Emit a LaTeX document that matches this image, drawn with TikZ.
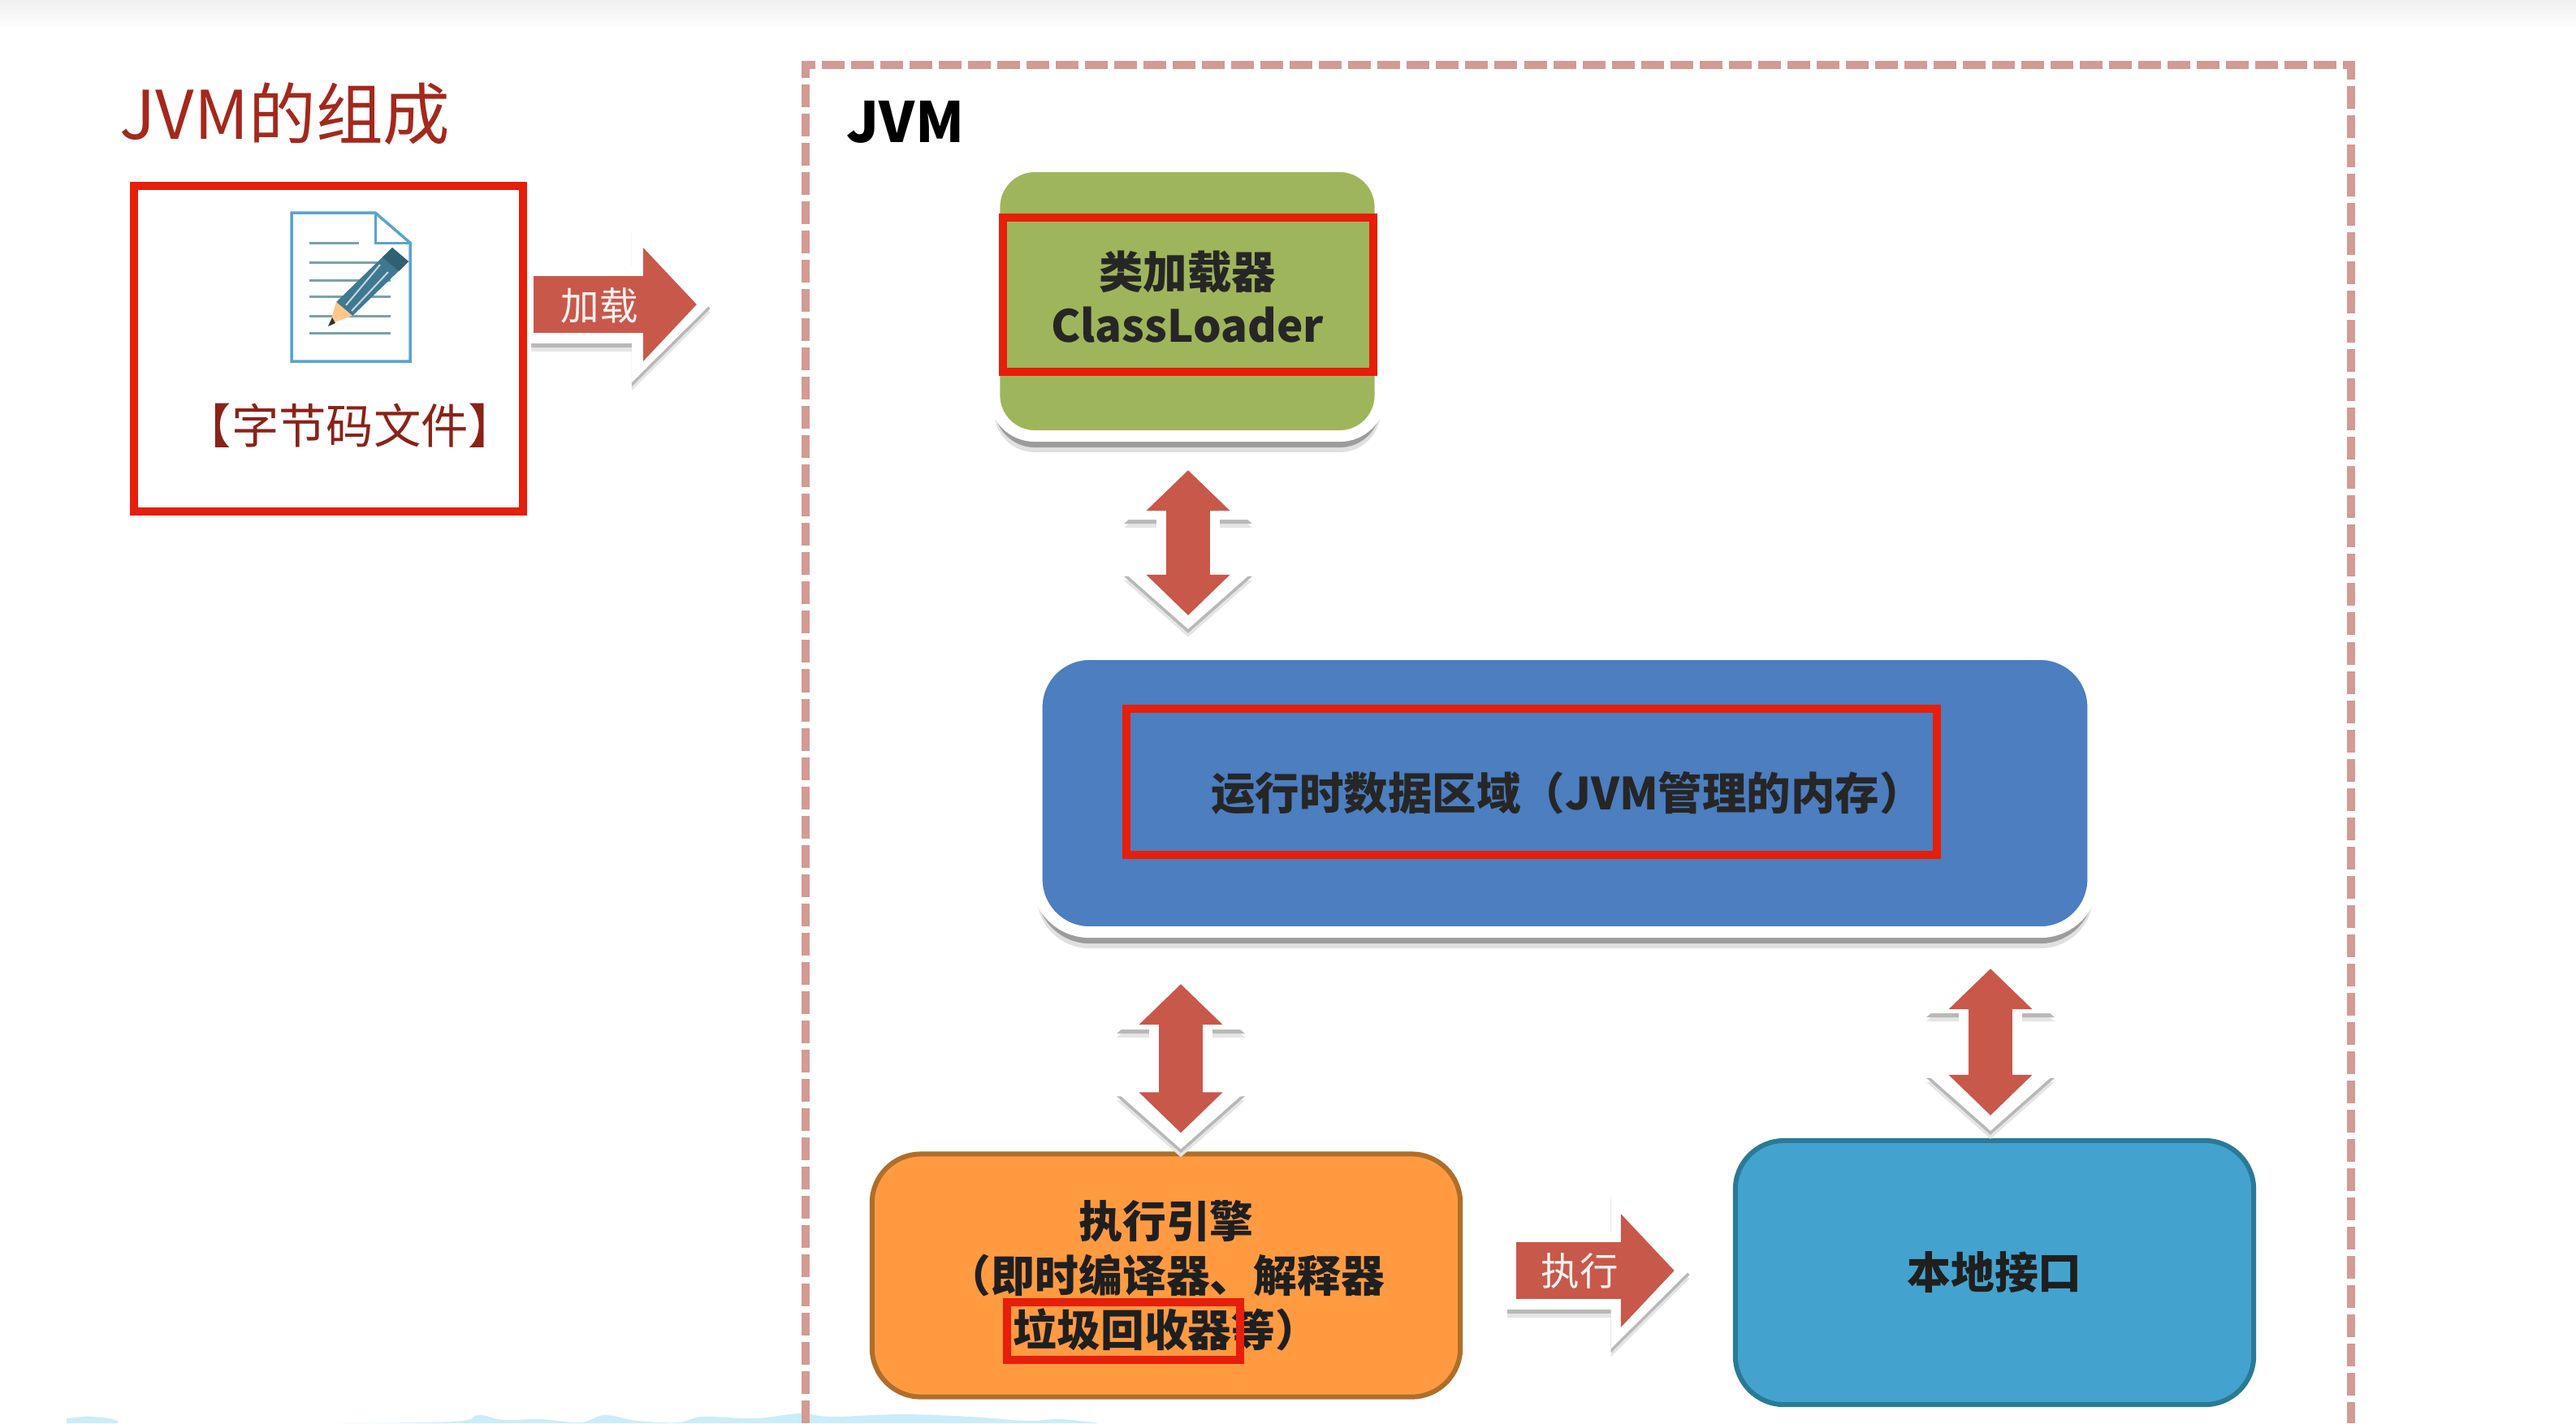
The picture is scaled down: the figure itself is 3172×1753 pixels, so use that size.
\documentclass[tikz,border=0pt]{standalone}
\usepackage{fontspec}
\setmainfont{Noto Sans CJK SC}
\usetikzlibrary{arrows.meta,shadows}
\definecolor{titlered}{HTML}{A4281C}
\definecolor{framered}{HTML}{D49A94}
\definecolor{boxred}{HTML}{E61E0A}
\definecolor{arrowred}{HTML}{C8584A}
\definecolor{loadgreen}{HTML}{9FB55B}
\definecolor{rtblue}{HTML}{4C7EC0}
\definecolor{engorange}{HTML}{FF9A41}
\definecolor{engedge}{HTML}{AF6E2A}
\definecolor{natblue}{HTML}{43A3CE}
\definecolor{natedge}{HTML}{2A7A96}
\definecolor{paperblue}{HTML}{5BA3D0}
\definecolor{penblue}{HTML}{3F7890}
\definecolor{wave}{HTML}{CBECFA}
\tikzset{
  panel/.style={rectangle,rounded corners=#1,draw=white,line width=.14cm,
    drop shadow={shadow xshift=0cm,shadow yshift=-.2cm,opacity=.12,fill=black},
    drop shadow={shadow xshift=0cm,shadow yshift=-.14cm,opacity=.3,fill=black}},
  block/.style={rectangle,rounded corners=.6cm,line width=.06cm,text=black!88,
    font=\fontsize{15.3}{19.1}\selectfont\bfseries,align=center},
  boldtext/.style={text=black!85,font=\fontsize{15.5}{18.8}\selectfont\bfseries,align=center},
  redbox/.style={rectangle,draw=boxred,line width=.1cm},
  vwhite/.style={line width=.78cm,{Triangle[width=1.54cm,length=.7cm]}-{Triangle[width=1.54cm,length=.7cm]}},
  vred/.style={line width=.54cm,arrowred,{Triangle[width=1cm,length=.5cm]}-{Triangle[width=1cm,length=.5cm]}},
  hwhite/.style={line width=.96cm,-{Triangle[width=1.86cm,length=.97cm]}},
  hred/.style={line width=.7cm,arrowred,-{Triangle[width=1.36cm,length=.66cm]}},
  softshade/.style={black!10,transform canvas={yshift=-.1cm}},
  hardshade/.style={black!28,transform canvas={yshift=-.05cm}},
  arrowtext/.style={text=white!92!arrowred,font=\fontsize{13.5}{16}\selectfont},
}
\begin{document}
\begin{tikzpicture}[x=0.01cm,y=-0.01cm]
        \useasboundingbox (0,0) rectangle (3172,1753) ;
        \shade[top color=black!6,bottom color=white] (0,0) rectangle (3172,36) ;
        % wave at the lower edge
        \fill[wave] (82,1753)--(82,1747) to[out=5,in=175] (115,1745) to[out=-5,in=160] (145,1750)--(145,1753)--cycle ;
        \fill[wave] plot[smooth,tension=.6] coordinates {(415,1753) (560,1751) (590,1743) (620,1749) (665,1748)
          (715,1752) (745,1743) (785,1750) (835,1752) (865,1745) (930,1747) (985,1741)
          (1025,1745) (1110,1742) (1195,1745) (1265,1750) (1305,1748) (1354,1753)} --cycle ;
        % dashed JVM frame
        \draw[framered,line width=.1cm,dash pattern=on .28cm off .08cm]
        (992,1753)--(992,80)--(2895,80)--(2895,1753) ;
        \node[text=titlered,font=\fontsize{23.5}{27}\selectfont] (title) at (351,140) {JVM的组成} ;
        \node[font=\fontsize{19.5}{23}\selectfont\bfseries] (jvm) at (1115,150) {JVM} ;
        % class file
        \node[redbox,minimum width=4.79cm,minimum height=4.01cm] (src) at (404.5,429.5) {} ;
        \draw[paperblue,line width=.035cm,fill=white] (359,262)--(462,262)--(505,299)--(505,445)--(359,445)--cycle ;
        \draw[paperblue,line width=.03cm] (462,262)--(462,299)--(505,299) ;
        \draw[penblue!70,line width=.03cm] (381,299)--(442,299) ;
        \foreach \yy in {323,345,365,389,410} \draw[penblue!70,line width=.03cm] (381,\yy)--(481,\yy) ;
        \fill[penblue] (483,305)--(503,322)--(434,389)--(414,372)--cycle ;
        \fill[penblue!80!black] (483,305)--(503,322)--(491,334)--(471,317)--cycle ;
        \draw[white!70!penblue,line width=.02cm] (468,326)--(426,376) (478,335)--(433,383) ;
        \fill[orange!45!white] (414,372)--(434,389)--(406,399)--cycle ;
        \fill[black!80] (409,391)--(413,398)--(404,402)--cycle ;
        \node[text=titlered!85!black,font=\fontsize{16.6}{19}\selectfont] (srclabel) at (431,524) {【字节码文件】} ;
        % the four parts
        \node[panel=.5cm,fill=loadgreen,minimum width=4.75cm,minimum height=3.32cm] (cl) at (1462,371) {} ;
        \node[redbox,minimum width=4.56cm,minimum height=1.9cm] (clbox) at (1463,363) {} ;
        \node[boldtext] (cllabel) at (1462,366) {类加载器\\ClassLoader} ;
        \node[panel=.65cm,fill=rtblue,minimum width=13cm,minimum height=3.42cm] (rt) at (1927,977) {} ;
        \node[redbox,minimum width=9.98cm,minimum height=1.8cm] (rtbox) at (1886,963) {} ;
        \node[boldtext] (rtlabel) at (1930,977) {运行时数据区域（JVM管理的内存）} ;
        \node[block,draw=engedge,fill=engorange,minimum width=7.24cm,minimum height=2.99cm] (eng) at (1436,1571)
        {执行引擎\\（即时编译器、解释器\\垃圾回收器等）} ;
        \node[redbox,minimum width=2.87cm,minimum height=.71cm] (gc) at (1383.5,1639.5) {} ;
        \node[block,draw=natedge,fill=natblue,minimum width=6.38cm,minimum height=3.25cm] (nat) at (2456,1567.5) {本地接口} ;
        % block arrows
        \coordinate (a1) at (1463,0) ;
        \coordinate (a2) at (1454,0) ;
        \coordinate (a3) at (2451,0) ;
        \coordinate (ld) at (875,375) ;
        \coordinate (ex) at (0,1565) ;
        \foreach \c/\from/\to/\wa/\wb/\ra/\rb in {a1/cl.south/rt.north/26/24/35/41,
          a2/rt.south/eng.north/43/3/57/23,a3/rt.south/nat.north/23/9/38/28} {
          \draw[vwhite,softshade,shorten <=\wa*0.01cm,shorten >=\wb*0.01cm] (\c |- \from) -- (\c |- \to) ;
          \draw[vwhite,hardshade,shorten <=\wa*0.01cm,shorten >=\wb*0.01cm] (\c |- \from) -- (\c |- \to) ;
          \draw[vwhite,white,shorten <=\wa*0.01cm,shorten >=\wb*0.01cm] (\c |- \from) -- (\c |- \to) ;
          \draw[vred,shorten <=\ra*0.01cm,shorten >=\rb*0.01cm] (\c |- \from) -- (\c |- \to) ;
        }
        \draw[hwhite,softshade,shorten <=.05cm] (src.east |- ld) -- (ld) ;
        \draw[hwhite,hardshade,shorten <=.05cm] (src.east |- ld) -- (ld) ;
        \draw[hwhite,white,shorten <=.05cm] (src.east |- ld) -- (ld) ;
        \draw[hred,shorten <=.08cm,shorten >=.17cm] (src.east |- ld) -- (ld) ;
        \node[arrowtext] (ldlabel) at (738,376) {加载} ;
        \draw[hwhite,softshade,shorten <=.55cm,shorten >=.53cm] (eng.east |- ex) -- (nat.west |- ex) ;
        \draw[hwhite,hardshade,shorten <=.55cm,shorten >=.53cm] (eng.east |- ex) -- (nat.west |- ex) ;
        \draw[hwhite,white,shorten <=.55cm,shorten >=.53cm] (eng.east |- ex) -- (nat.west |- ex) ;
        \draw[hred,shorten <=.66cm,shorten >=.72cm] (eng.east |- ex) -- (nat.west |- ex) ;
        \node[arrowtext] (exlabel) at (1945,1565) {执行} ;
      \end{tikzpicture}
\end{document}
